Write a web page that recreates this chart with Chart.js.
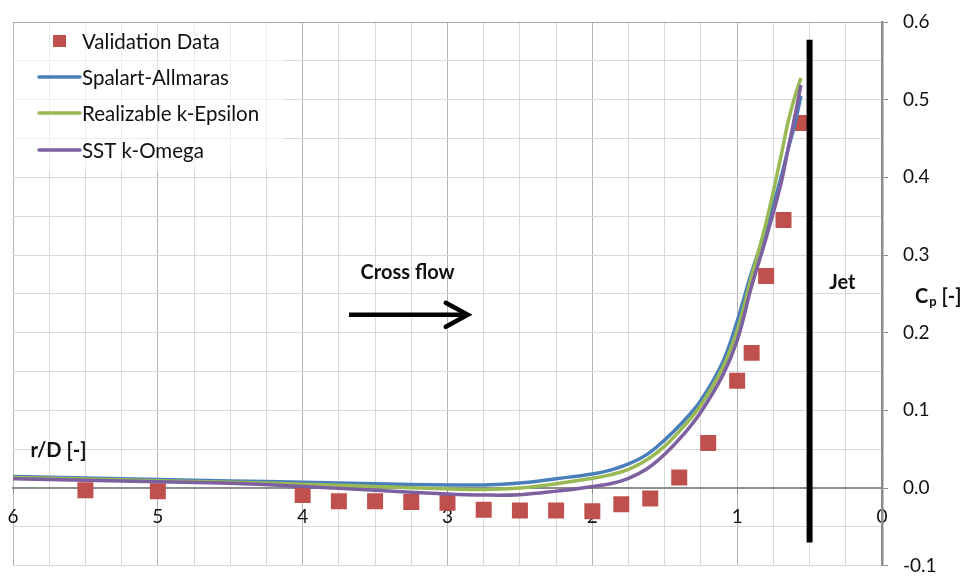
<!DOCTYPE html>
<html>
<head>
<meta charset="utf-8">
<title>Cp along the wall</title>
<script src="https://cdn.jsdelivr.net/npm/chart.js@4.4.0/dist/chart.umd.min.js"></script>
<style>
  html, body { margin: 0; padding: 0; background: #fff; }
  #wrap { width: 966px; height: 577px; }
</style>
</head>
<body>
<div id="wrap"><canvas id="chart"></canvas></div>
<script>
// measured wall pressure
const valX  = [5.5, 5.0, 4.0, 3.75, 3.5, 3.25, 3.0, 2.75, 2.5, 2.25, 2.0, 1.8, 1.6, 1.4, 1.2, 1.0, 0.9, 0.8, 0.68, 0.56];
const valCp = [-0.003, -0.004, -0.009, -0.017, -0.017, -0.018, -0.019, -0.028, -0.029, -0.029, -0.030, -0.021, -0.0135, 0.0135, 0.058, 0.138, 0.174, 0.273, 0.345, 0.470];

// CFD profiles (same r/D stations for all three models)
const simX  = [6, 5.5, 5, 4.5, 4, 3.5, 3, 2.75, 2.5, 2.25, 2, 1.875, 1.75, 1.625, 1.5, 1.375, 1.25, 1.1, 1.0, 0.9, 0.8, 0.7, 0.65, 0.6, 0.56];
const cpSA  = [0.015, 0.013, 0.011, 0.009, 0.0075, 0.0055, 0.004, 0.004, 0.0065, 0.012, 0.018, 0.023, 0.031, 0.043, 0.062, 0.085, 0.113, 0.162, 0.215, 0.278, 0.334, 0.398, 0.435, 0.470, 0.505];
const cpRKE = [0.0135, 0.0115, 0.0095, 0.0075, 0.005, 0.002, -0.001, -0.002, 0.000, 0.0055, 0.0125, 0.017, 0.024, 0.036, 0.054, 0.078, 0.107, 0.155, 0.203, 0.273, 0.342, 0.425, 0.470, 0.505, 0.528];
const cpSST = [0.012, 0.010, 0.008, 0.006, 0.002, -0.003, -0.0077, -0.009, -0.0085, -0.004, 0.002, 0.0055, 0.0125, 0.0245, 0.0436, 0.068, 0.098, 0.145, 0.190, 0.260, 0.322, 0.390, 0.435, 0.480, 0.519];

// jet edge marker
const jetX  = [0.5, 0.5];
const jetCp = [-0.07, 0.577];

const seriesNames  = ['Validation Data', 'Spalart-Allmaras', 'Realizable k-Epsilon', 'SST k-Omega'];
const seriesColors = ['#c0504d', '#4a7ebb', '#98b954', '#7d60a0'];

const FONT = 'Lato, "Open Sans", sans-serif';

function pts(xs, ys) {
  return xs.map((v, i) => ({ x: v, y: ys[i] }));
}
function isMajorY(v) {
  return Math.abs(v * 10 - Math.round(v * 10)) < 1e-6;
}

// legend, labels and the cross flow arrow
const overlay = {
  id: 'overlay',
  afterDatasetsDraw(chart) {
    const { ctx, chartArea, scales: { x, y } } = chart;
    ctx.save();

    // legend box (semi transparent like excel's)
    ctx.fillStyle = 'rgba(255,255,255,0.55)';
    ctx.fillRect(chartArea.left + 1, chartArea.top + 1, 270, 148);

    const rowY = [41, 77, 113, 150];
    ctx.font = '20.5px ' + FONT;
    ctx.textBaseline = 'middle';
    ctx.textAlign = 'left';
    seriesNames.forEach((name, i) => {
      const cy = rowY[i];
      if (i === 0) {
        ctx.fillStyle = seriesColors[0];
        ctx.fillRect(53, cy - 6, 13, 12);
      } else {
        ctx.strokeStyle = seriesColors[i];
        ctx.lineWidth = 3.5;
        ctx.lineCap = 'round';
        ctx.beginPath();
        ctx.moveTo(39, cy);
        ctx.lineTo(80, cy);
        ctx.stroke();
      }
      ctx.fillStyle = '#111';
      ctx.fillText(name, 82, cy + 1);
    });

    ctx.font = 'bold 20px ' + FONT;
    ctx.fillStyle = '#111';
    ctx.fillText('Cross flow', x.getPixelForValue(3.6), y.getPixelForValue(0.277));
    ctx.fillText('Jet', x.getPixelForValue(0.365), y.getPixelForValue(0.264));
    ctx.fillText('r/D [-]', x.getPixelForValue(5.88), y.getPixelForValue(0.048));

    // Cp [-] next to the right axis
    const cx = chartArea.right + 33, cyp = y.getPixelForValue(0.247);
    ctx.fillText('C', cx, cyp);
    const w = ctx.measureText('C').width;
    ctx.font = 'bold 13px ' + FONT;
    ctx.fillText('p', cx + w + 1, cyp + 6);
    const wp = ctx.measureText('p').width;
    ctx.font = 'bold 20px ' + FONT;
    ctx.fillText(' [-]', cx + w + wp + 1, cyp);

    // arrow
    const ax0 = x.getPixelForValue(3.68), ax1 = x.getPixelForValue(2.86);
    const ay = y.getPixelForValue(0.223);
    ctx.strokeStyle = '#000';
    ctx.lineWidth = 4.5;
    ctx.lineCap = 'butt';
    ctx.beginPath();
    ctx.moveTo(ax0, ay);
    ctx.lineTo(ax1 - 2, ay);
    ctx.stroke();
    ctx.lineCap = 'round';
    ctx.lineJoin = 'miter';
    ctx.beginPath();
    ctx.moveTo(ax1 - 22, ay - 12);
    ctx.lineTo(ax1, ay);
    ctx.lineTo(ax1 - 22, ay + 12);
    ctx.stroke();

    ctx.restore();
  }
};

document.addEventListener('DOMContentLoaded', function () {
  const ctx = document.getElementById('chart').getContext('2d');
  const lineStyle = {
    showLine: true,
    borderWidth: 3.5,
    pointRadius: 0,
    tension: 0.4
  };
  new Chart(ctx, {
    type: 'scatter',
    data: {
      datasets: [
        {
          label: 'Jet',
          data: pts(jetX, jetCp),
          showLine: true,
          borderColor: '#000',
          borderWidth: 6,
          pointRadius: 0,
          order: 0
        },
        Object.assign({ label: seriesNames[3], data: pts(simX, cpSST), borderColor: seriesColors[3], order: 1 }, lineStyle),
        Object.assign({ label: seriesNames[2], data: pts(simX, cpRKE), borderColor: seriesColors[2], order: 2 }, lineStyle),
        Object.assign({ label: seriesNames[1], data: pts(simX, cpSA), borderColor: seriesColors[1], order: 3 }, lineStyle),
        {
          label: seriesNames[0],
          data: pts(valX, valCp),
          pointStyle: 'rect',
          pointRadius: 11.3,
          pointBackgroundColor: seriesColors[0],
          pointBorderWidth: 0,
          order: 4
        }
      ]
    },
    options: {
      responsive: true,
      maintainAspectRatio: false,
      animation: false,
      layout: { padding: { top: 22, bottom: 10, left: 13, right: 0 } },
      plugins: {
        legend: { display: false },
        tooltip: { enabled: false }
      },
      scales: {
        x: {
          type: 'linear',
          reverse: true,
          min: 0,
          max: 6,
          position: { y: 0 },
          border: { color: '#8c8c8c', width: 2 },
          grid: {
            color: c => Number.isInteger(c.tick.value) ? '#b5b5b5' : '#d9d9d9',
            tickColor: c => Number.isInteger(c.tick.value) ? '#8c8c8c' : 'rgba(0,0,0,0)',
            tickLength: 5,
            lineWidth: 1
          },
          ticks: {
            stepSize: 0.25,
            autoSkip: false,
            maxRotation: 0,
            padding: 12,
            color: '#111',
            font: { family: FONT, size: 19 },
            callback: v => Number.isInteger(v) ? String(v) : ''
          },
          // the axis sits on Cp = 0, so it takes no room around the plot
          afterFit: s => { s.height = 0; s.paddingLeft = 0; s.paddingRight = 0; }
        },
        y: {
          position: 'right',
          min: -0.1,
          max: 0.6,
          border: { color: '#8c8c8c', width: 2.5 },
          grid: {
            color: c => Math.abs(c.tick.value - 0.6) < 1e-6 ? '#a6a6a6' : '#d9d9d9',
            tickColor: c => isMajorY(c.tick.value) ? '#8c8c8c' : 'rgba(0,0,0,0)',
            tickLength: 6,
            lineWidth: 1
          },
          ticks: {
            stepSize: 0.05,
            autoSkip: false,
            padding: 15,
            color: '#111',
            font: { family: FONT, size: 19 },
            callback: v => isMajorY(v) ? (Math.abs(v) < 1e-9 ? '0.0' : v.toFixed(1)) : ''
          },
          afterFit: s => { s.width = 84; s.paddingTop = 0; s.paddingBottom = 0; }
        }
      }
    },
    plugins: [overlay]
  });
});
</script>
</body>
</html>
